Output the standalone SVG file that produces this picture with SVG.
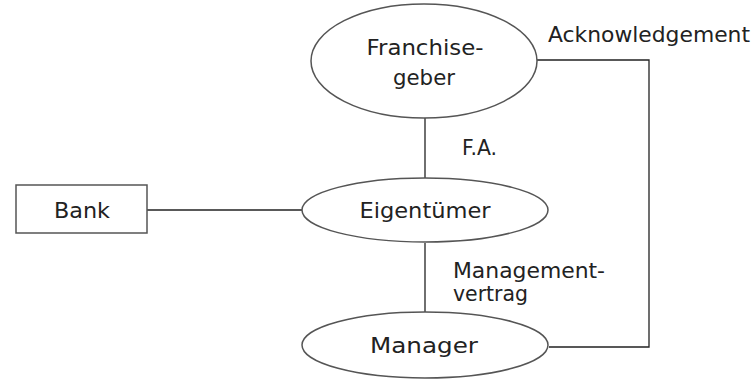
<svg xmlns="http://www.w3.org/2000/svg" width="755" height="380" viewBox="0 0 755 380">
  <style>
    .shape { fill: #ffffff; stroke: #555555; stroke-width: 1.5; }
    .link { fill: none; stroke: #222222; stroke-width: 1.3; }
    text { font-family: "DejaVu Sans", "Liberation Sans", sans-serif; font-size: 21px; fill: #222222; }
    .c { text-anchor: middle; }
  </style>
  <rect width="755" height="380" fill="#ffffff"/>
  <g id="connectors">
    <line class="link" x1="425" y1="118" x2="425" y2="178"/>
    <line class="link" x1="147" y1="210" x2="302" y2="210"/>
    <line class="link" x1="425" y1="243" x2="425" y2="312"/>
    <polyline class="link" points="537,60 649,60 649,347 549,347"/>
    <text x="548" y="42" font-size="19" textLength="202" lengthAdjust="spacingAndGlyphs">Acknowledgement</text>
    <text x="462" y="155" font-size="19" textLength="35" lengthAdjust="spacingAndGlyphs">F.A.</text>
    <text x="453" y="278" font-size="19" textLength="152" lengthAdjust="spacingAndGlyphs">Management-</text>
    <text x="453" y="301" font-size="19" textLength="75" lengthAdjust="spacingAndGlyphs">vertrag</text>
  </g>
  <g id="franchisegeber">
    <ellipse class="shape" cx="424" cy="61" rx="113" ry="57"/>
    <text class="c" x="425" y="55" textLength="117" lengthAdjust="spacingAndGlyphs">Franchise-</text>
    <text class="c" x="424" y="85" textLength="62" lengthAdjust="spacingAndGlyphs">geber</text>
  </g>
  <g id="bank">
    <rect class="shape" x="16" y="185" width="131" height="48"/>
    <text class="c" x="82" y="218" textLength="56" lengthAdjust="spacingAndGlyphs">Bank</text>
  </g>
  <g id="eigentuemer">
    <ellipse class="shape" cx="425" cy="210" rx="123" ry="32"/>
    <text class="c" x="425" y="218" textLength="131" lengthAdjust="spacingAndGlyphs">Eigentümer</text>
  </g>
  <g id="manager">
    <ellipse class="shape" cx="425" cy="345" rx="123" ry="33"/>
    <text class="c" x="424" y="353" textLength="108" lengthAdjust="spacingAndGlyphs">Manager</text>
  </g>
</svg>
